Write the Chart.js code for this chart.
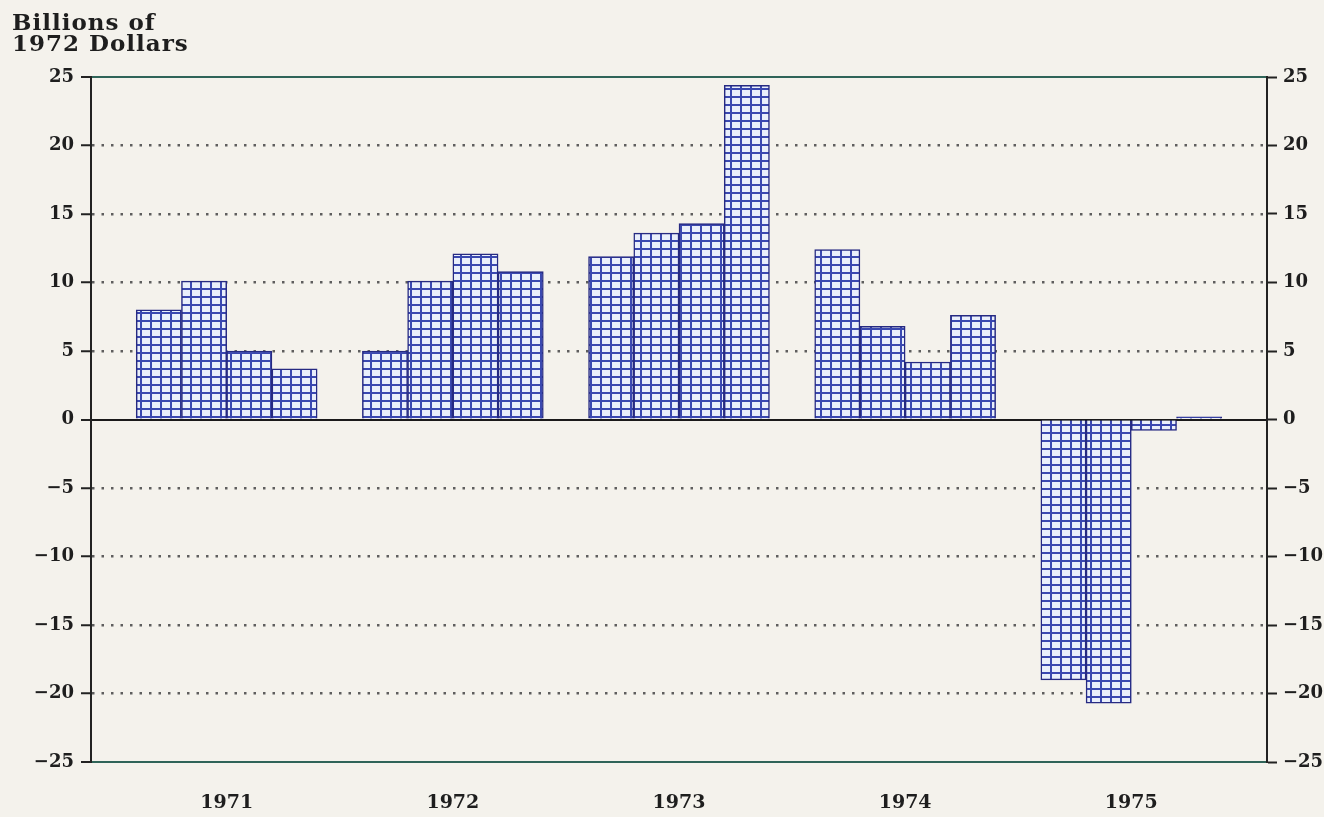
<!DOCTYPE html>
<html>
<head>
<meta charset="utf-8">
<script src="https://cdn.jsdelivr.net/npm/chart.js@4"></script>
<style>
  body { margin: 0; background: #f4f2ec; }
  canvas { display: block; }
</style>
</head>
<body>
<canvas id="chart" width="1324" height="817"></canvas>
<script>
// quarterly change, billions of 1972 dollars
const years = ["1971", "1972", "1973", "1974", "1975"];
const q1 = [8.0, 5.0, 11.9, 12.4, -19.0];
const q2 = [10.1, 10.1, 13.6, 6.8, -20.7];
const q3 = [5.0, 12.1, 14.3, 4.2, -0.8];
const q4 = [3.7, 10.8, 24.4, 7.6, 0.2];
const yTicks = [-25, -20, -15, -10, -5, 0, 5, 10, 15, 20, 25];

const canvas = document.getElementById("chart");
const ctx = canvas.getContext("2d");

// grid hatch fill like the plotter bars
function hatch() {
  const c = document.createElement("canvas");
  c.width = 10;
  c.height = 8;
  const g = c.getContext("2d");
  g.fillStyle = "#e9effb";
  g.fillRect(0, 0, 10, 8);
  g.fillStyle = "#3a48b0";
  g.fillRect(0, 0, 2, 8);
  g.fillRect(0, 0, 10, 2);
  return ctx.createPattern(c, "repeat");
}

// each year takes 5 slots: 4 quarters + gap, one slot margin at left
const points = [];
years.forEach((y, i) => {
  [q1, q2, q3, q4].forEach((q, j) => {
    points.push({ x: 1 + i * 5 + j + 0.5, y: q[i] });
  });
});

const font = "'DejaVu Serif', serif";

const gridColor = (c) => {
  const v = c.tick ? c.tick.value : null;
  if (v === 0) return "#1a1a1a";
  if (v === 25 || v === -25) return "#2f6458";
  return "#5e5e5e";
};

const titlePlugin = {
  id: "titleText",
  afterDraw(chart) {
    const c = chart.ctx;
    c.save();
    c.fillStyle = "#1e1e1e";
    c.font = "bold 23px " + font;
    c.letterSpacing = "1px";
    c.textBaseline = "alphabetic";
    c.fillText("Billions of", 12, 30);
    c.fillText("1972 Dollars", 12, 51);
    c.restore();
  },
};

new Chart(canvas, {
  type: "bar",
  data: {
    datasets: [
      {
        data: points,
        backgroundColor: hatch(),
        borderColor: "#262a82",
        borderWidth: 1.5,
        barPercentage: 1,
        categoryPercentage: 1,
      },
    ],
  },
  options: {
    responsive: false,
    animation: false,
    layout: { padding: { top: 77, bottom: 0, left: 0, right: 0 } },
    plugins: {
      legend: { display: false },
      tooltip: { enabled: false },
    },
    scales: {
      x: {
        type: "linear",
        min: 0,
        max: 26,
        offset: false,
        grid: { display: false, drawTicks: false },
        border: { display: false },
        afterBuildTicks: (axis) => {
          axis.ticks = years.map((y, i) => ({ value: 3 + i * 5 }));
        },
        afterFit: (axis) => {
          axis.height = 55;
        },
        ticks: {
          padding: 30,
          maxRotation: 0,
          color: "#1e1e1e",
          font: { family: font, size: 19, weight: "bold" },
          callback: (v) => years[(v - 3) / 5],
        },
      },
      y: {
        min: -25,
        max: 25,
        afterBuildTicks: (axis) => {
          axis.ticks = yTicks.map((v) => ({ value: v }));
        },
        afterFit: (axis) => {
          axis.width = 91;
        },
        grid: {
          color: gridColor,
          lineWidth: (c) => (c.tick && c.tick.value % 25 !== 0 ? 2.5 : 2),
          tickColor: "#222",
          tickWidth: 2,
          tickLength: 10,
        },
        border: {
          display: true,
          color: "#222",
          width: 2,
          dash: (c) => (c.tick && c.tick.value % 25 !== 0 ? [2.5, 7] : []),
        },
        ticks: {
          padding: 7,
          color: "#1e1e1e",
          font: { family: font, size: 18, weight: "bold" },
          callback: (v) => (v < 0 ? "\u2212" + -v : "" + v),
        },
      },
      y2: {
        position: "right",
        display: true,
        min: -25,
        max: 25,
        afterBuildTicks: (axis) => {
          axis.ticks = yTicks.map((v) => ({ value: v }));
        },
        afterFit: (axis) => {
          axis.width = 57;
        },
        grid: {
          drawOnChartArea: false,
          tickColor: "#222",
          tickWidth: 2,
          tickLength: 10,
        },
        border: { display: true, color: "#222", width: 2 },
        ticks: {
          padding: 6,
          color: "#1e1e1e",
          font: { family: font, size: 18, weight: "bold" },
          callback: (v) => (v < 0 ? "\u2212" + -v : "" + v),
        },
      },
    },
  },
  plugins: [titlePlugin],
});
</script>
</body>
</html>
